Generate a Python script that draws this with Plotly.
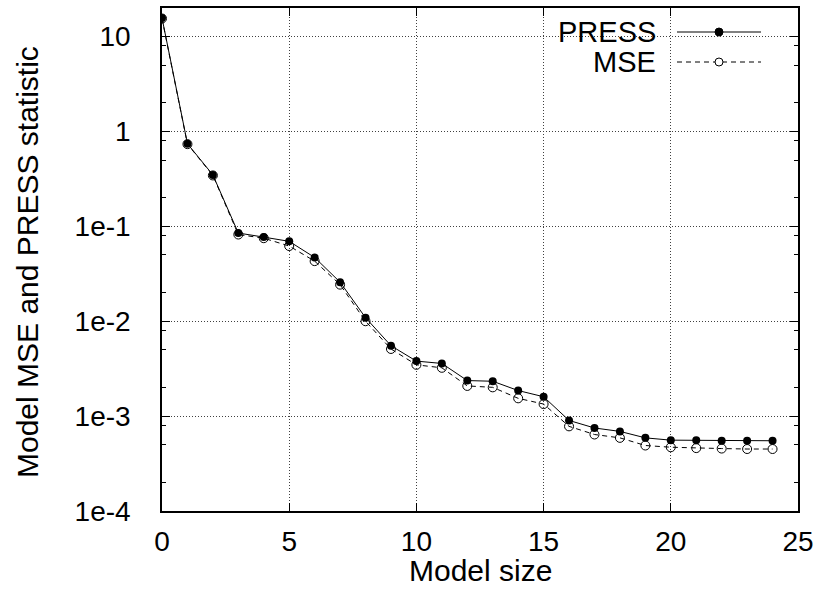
import plotly.graph_objects as go

# ---- data ----
model_size = list(range(25))
press = [15.7, 0.743, 0.348, 0.085, 0.077, 0.0695, 0.047, 0.0258, 0.0109, 0.00552,
         0.0038, 0.00359, 0.00237, 0.00233, 0.00186, 0.00160, 0.00090, 0.00075,
         0.00069, 0.00059, 0.000558, 0.000556, 0.00055, 0.00055, 0.00055]
mse = [15.5, 0.735, 0.344, 0.082, 0.075, 0.062, 0.043, 0.0243, 0.0100, 0.0051,
       0.00347, 0.00323, 0.00208, 0.00201, 0.00154, 0.00134, 0.00078, 0.00064,
       0.00059, 0.00049, 0.00047, 0.00046, 0.000455, 0.00045, 0.00045]
y_tickvals = [1e-4, 1e-3, 1e-2, 1e-1, 1, 10]
y_ticktext = ["1e-4", "1e-3", "1e-2", "1e-1", "1", "10"]
x_tickvals = [0, 5, 10, 15, 20, 25]
series_names = ["PRESS", "MSE"]

minor_vals = [m * d for d in [1e-4, 1e-3, 1e-2, 1e-1, 1, 10] for m in (2, 5, 8)]

FONT = "Liberation Sans, Arial, Helvetica, sans-serif"
W, H = 822, 610
L, R, T, B = 162, 24, 8, 99
PW, PH = W - L - R, H - T - B


def px_x(p):
    return (p - L) / PW


def px_y(p):
    return (H - B - p) / PH


fig = go.Figure()
fig.add_trace(go.Scatter(
    x=model_size, y=mse, name=series_names[1], mode="lines+markers",
    line=dict(color="black", width=1, dash="5px,4px"),
    marker=dict(symbol="circle-open", size=9, color="black", line=dict(width=1, color="black")),
    showlegend=False))
fig.add_trace(go.Scatter(
    x=model_size, y=press, name=series_names[0], mode="lines+markers",
    line=dict(color="black", width=1),
    marker=dict(symbol="circle", size=8, color="black"),
    showlegend=False))

axis_common = dict(
    showline=True, linecolor="black", linewidth=1.5, mirror="allticks",
    ticks="inside", ticklen=8, tickcolor="black", tickwidth=1,
    showgrid=True, gridcolor="#404040", gridwidth=1, griddash="1px,2px",
    zeroline=False, tickfont=dict(family=FONT, size=28, color="black"),
)

fig.update_xaxes(range=[0, 25], tickmode="array", tickvals=x_tickvals,
                 ticklabelstandoff=5, **axis_common)
fig.update_yaxes(type="log", range=[-4, 1.30103], tickmode="array",
                 tickvals=y_tickvals, ticktext=y_ticktext, ticklabelstandoff=24,
                 minor=dict(tickmode="array", tickvals=minor_vals, ticks="inside",
                            ticklen=4, tickcolor="black", showgrid=False),
                 **axis_common)

# legend drawn manually (text to the left of the sample, gnuplot style)
shapes = [dict(type="rect", xref="paper", yref="paper",
               x0=px_x(552), x1=px_x(777), y0=px_y(79), y1=px_y(14),
               fillcolor="white", line=dict(width=0), layer="between")]
annotations = []
legend_rows = [(series_names[0], 32, "solid", "black"), (series_names[1], 62, "5px,4px", "white")]
for name, yc, dash, fill in legend_rows:
    shapes.append(dict(type="line", xref="paper", yref="paper",
                       x0=px_x(677), x1=px_x(761), y0=px_y(yc), y1=px_y(yc),
                       line=dict(color="black", width=1, dash=dash)))
    shapes.append(dict(type="circle", xref="paper", yref="paper",
                       xsizemode="pixel", ysizemode="pixel",
                       xanchor=px_x(719), yanchor=px_y(yc),
                       x0=-4, x1=4, y0=-4, y1=4,
                       fillcolor=fill, line=dict(color="black", width=1)))
    annotations.append(dict(text=name, xref="paper", yref="paper",
                            x=px_x(658), y=px_y(yc), xanchor="right", yanchor="middle",
                            showarrow=False, font=dict(family=FONT, size=29, color="black")))

annotations.append(dict(text="Model size", xref="paper", yref="paper",
                        x=px_x(480), y=px_y(570), xanchor="center", yanchor="middle",
                        showarrow=False, font=dict(family=FONT, size=30, color="black")))
annotations.append(dict(text="Model MSE and PRESS statistic", xref="paper", yref="paper",
                        x=px_x(27), y=px_y(262), xanchor="center", yanchor="middle",
                        textangle=-90, showarrow=False,
                        font=dict(family=FONT, size=30, color="black")))

fig.update_layout(
    width=W, height=H, margin=dict(l=L, r=R, t=T, b=B, autoexpand=False),
    plot_bgcolor="white", paper_bgcolor="white",
    shapes=shapes, annotations=annotations, showlegend=False,
)

fig.write_html("out.html")
